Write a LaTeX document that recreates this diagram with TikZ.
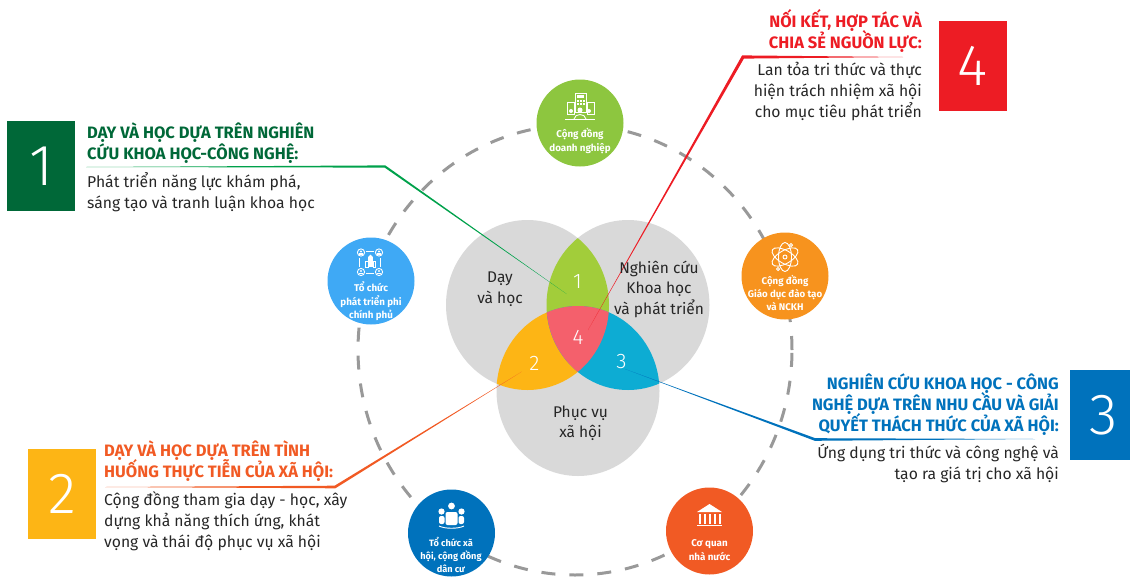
\documentclass[tikz,border=0pt]{standalone}
\usepackage{fontspec}
\setmainfont{Fira Sans}
\newfontfamily\thinfont{Fira Sans Light}
\usepackage{xcolor}
\usetikzlibrary{calc}
\normallineskiplimit=-20pt % keep the lines evenly spaced under tall accents
\lineskiplimit=-20pt

\definecolor{cgreen}{HTML}{006838}
\definecolor{cgreenl}{HTML}{00A14B}
\definecolor{cyellow}{HTML}{FDB515}
\definecolor{corange}{HTML}{F15A24}
\definecolor{cblue}{HTML}{0072BC}
\definecolor{cred}{HTML}{ED1C24}
\definecolor{cgray}{HTML}{D9D9D9}
\definecolor{clens}{HTML}{A2CD3A}
\definecolor{csky}{HTML}{0DACD3}
\definecolor{cpink}{HTML}{F4606C}
\definecolor{ctop}{HTML}{8DC63F}
\definecolor{cleft}{HTML}{3FA9F5}
\definecolor{cright}{HTML}{F7931E}

\tikzset{
    numbox/.style={minimum width=68pt,minimum height=90pt,inner sep=0pt,text=white,font=\fontsize{58}{58}\selectfont\thinfont},
    head/.style={inner sep=0pt,font=\fontsize{16.5}{21}\selectfont\bfseries},
    body/.style={inner sep=0pt,text=black!85,font=\fontsize{15.7}{21}\selectfont},
    venn/.style={inner sep=0pt,align=center,text=black!85,font=\fontsize{15.5}{20.5}\selectfont},
    vnum/.style={inner sep=0pt,text=white,font=\fontsize{21}{21}\selectfont\thinfont},
    comm/.style={circle,minimum size=87pt,inner sep=0pt},
    commtext/.style={inner sep=0pt,align=center,text=white,font=\fontsize{9.8}{13.5}\selectfont\bfseries},
    icon/.style={white,line width=0.9pt},
}

% colour, start, corner, end, shift of the corner
\newcommand{\taper}[6]{\fill[#1] (#2) -- ($(#3)+(#5,-#6)$) -- (#4) -- ($(#3)+(-#5,#6)$) -- cycle;}

\begin{document}
\begin{tikzpicture}[x=1pt,y=-1pt]
        \clip (0,0) rectangle (1130,576); % page size
        \def\vennL{(527.5,305) ellipse [x radius=81.5pt,y radius=85pt]}
        \def\vennR{(628,305) ellipse [x radius=81.5pt,y radius=85pt]}
        \def\vennB{(578,391) ellipse [x radius=81.5pt,y radius=85pt]}

        % dashed ring, then the five communities
        \draw [black!40,line width=3pt,dash pattern=on 14pt off 14pt] (575,350) ellipse [x radius=217pt,y radius=225pt];
        \foreach \n/\x/\y/\c in {top/580/123/ctop,left/371/281/cleft,right/785/276/cright,botl/451.5/533/cblue,botr/709.5/531/corange}
        {
            \node [comm,fill=\c] (c\n) at (\x,\y) {};
        }
        \node [commtext] (ttop) at (580,141) {Cộng đồng\\doanh nghiệp};
        \node [commtext] (tleft) at (371,301.5) {Tổ chức\\phát triển phi\\chính phủ};
        \node [commtext,font=\fontsize{9.7}{13}\selectfont\bfseries] (tright) at (785,293) {Cộng đồng\\Giáo dục đào tạo\\và NCKH};
        \node [commtext,font=\fontsize{9.2}{13}\selectfont\bfseries] (tbotl) at (451,555) {Tổ chức xã\\hội, cộng đồng\\dân cư};
        \node [commtext] (tbotr) at (709.5,550) {Cơ quan\\nhà nước};

        % icon of the top circle
        \draw [icon] (575,93) rectangle (586,112);
        \draw [icon] (567,102) rectangle (574,114);
        \draw [icon] (587,102) rectangle (594,114);
        \fill [white] (577,95) rectangle (584,98);
        \foreach \a in {577,580,583}
            \foreach \b in {100,103}
                \fill [white] (\a,\b) rectangle ++(1.6,1.6);
        \fill [white] (580,110) circle (2.5pt);
        \fill [white] (571,111) circle (2pt);
        \fill [white] (589,111) circle (2pt);
        \draw [icon] (565,119) -- (595,119);
        \draw [icon] (574,119) .. controls (575,113) and (585,113) .. (586,119);

        % icon of the left circle
        \foreach \a/\b in {361/252.5,379/252.5,361/272,379/272}
        {
            \draw [icon] (\a,\b) circle (3.6pt);
            \fill [white] (\a,\b-1) circle (1.1pt);
            \fill [white] (\a-1.8,\b+2) rectangle (\a+1.8,\b+0.6);
        }
        \fill [white] (368,257) rectangle (373,267);
        \draw [icon] (365.5,261) rectangle (368,267);
        \draw [icon] (373,261) rectangle (375.5,267);
        \fill [white] (368,257) -- (370.5,254.5) -- (373,257) -- cycle;
        \draw [icon] (366,251) -- (374,251);
        \draw [icon] (366,273) -- (374,273);
        \draw [icon] (359.5,258) -- (359.5,267);
        \draw [icon] (380.5,258) -- (380.5,267);

        % icon of the right circle
        \foreach \r in {30,90,150}
            \draw [icon] (785,257) ellipse [x radius=14.5pt,y radius=6.5pt,rotate=\r];
        \draw [icon] (785,257) circle (2pt);
        \foreach \a/\b in {791/245,778/269}
            \draw [icon,fill=cright] (\a,\b) circle (1.6pt);

        % icon of the lower left circle
        \fill [white] (451.5,506) circle (3.4pt);
        \fill [white] (441.5,511.5) circle (3.1pt);
        \fill [white] (461.5,511.5) circle (3.1pt);
        \fill [white,rounded corners=2pt] (445.5,512) rectangle (457.5,525);
        \fill [white,rounded corners=2pt] (439,516) rectangle (444.5,524);
        \fill [white,rounded corners=2pt] (458.5,516) rectangle (464,524);
        \draw [icon] (439,526) .. controls (445,529) and (458,529) .. (464,526);

        % icon of the lower right circle
        \fill [white] (697,512) -- (709.5,504) -- (722,512) -- cycle;
        \foreach \a in {700,705,710,715,720}
            \fill [white] (\a-1,514) rectangle (\a+0.6,523.5);
        \fill [white] (697,524.5) rectangle (722,526);

        % the three fields and their overlaps
        \fill [cgray] \vennL;
        \fill [cgray] \vennR;
        \fill [cgray] \vennB;
        \begin{scope}
            \clip \vennL;
            \fill [clens] \vennR;
            \fill [cyellow] \vennB;
        \end{scope}
        \begin{scope}
            \clip \vennR;
            \fill [csky] \vennB;
        \end{scope}
        \begin{scope}
            \clip \vennL;
            \clip \vennR;
            \fill [cpink] \vennB;
        \end{scope}

        % connectors
        \coordinate (s1) at (86,167);
        \coordinate (k1) at (385,166.5);
        \coordinate (e1) at (566.7,294);
        \coordinate (s2) at (105,487);
        \coordinate (k2) at (335,487);
        \coordinate (e2) at (521.7,371.7);
        \coordinate (s3) at (1035,439);
        \coordinate (k3) at (815,439.5);
        \coordinate (e3) at (625,369);
        \coordinate (s4) at (903,57);
        \coordinate (k4) at (743,57);
        \coordinate (e4) at (588,330);
        \taper{cgreenl}{s1}{k1}{e1}{0.3}{1.1}
        \taper{corange}{s2}{k2}{e2}{-0.4}{1.3}
        \taper{cblue}{s3}{k3}{e3}{0.25}{1.3}
        \taper{cred}{s4}{k4}{e4}{-0.9}{1.6}

        % labels inside the fields
        \node [venn] (vL) at (500,289) {Dạy\\và học};
        \node [venn] (vR) at (659,289) {Nghiên cứu\\Khoa học\\và phát triển};
        \node [venn] (vB) at (580.5,423) {Phục vụ\\xã hội};
        \node [vnum] (n1) at (577.5,282) {1};
        \node [vnum] (n2) at (534.5,363) {2};
        \node [vnum] (n3) at (621.5,362) {3};
        \node [vnum] (n4) at (578,337) {4};

        % numbered boxes
        \foreach \n/\x/\y/\c in {1/41/166/cgreen,2/62/494/cyellow,3/1104/415/cblue,4/973/66/cred}
        {
            \node [numbox,fill=\c] (box\n) at (\x,\y) {\n};
        }

        % texts next to the boxes
        \node [head,text=cgreen,anchor=north west,align=left] (h1) at (87,122.5) {DẠY VÀ HỌC DỰA TRÊN NGHIÊN\\CỨU KHOA HỌC-CÔNG NGHỆ:};
        \node [body,anchor=north west,align=left] (b1) at (87,172) {Phát triển năng lực khám phá,\\sáng tạo và tranh luận khoa học};
        \node [head,text=corange,anchor=north west,align=left] (h2) at (104,440.5) {DẠY VÀ HỌC DỰA TRÊN TÌNH\\HUỐNG THỰC TIỄN CỦA XÃ HỘI:};
        \node [body,anchor=north west,align=left] (b2) at (104,491) {Cộng đồng tham gia dạy - học, xây\\dựng khả năng thích ứng, khát\\vọng và thái độ phục vụ xã hội};
        \node [head,text=cblue,anchor=north east,align=right] (h3) at (1059,374) {NGHIÊN CỨU KHOA HỌC - CÔNG\\NGHỆ DỰA TRÊN NHU CẦU VÀ GIẢI\\QUYẾT THÁCH THỨC CỦA XÃ HỘI:};
        \node [body,anchor=north east,align=right] (b3) at (1059,444) {Ứng dụng tri thức và công nghệ và\\tạo ra giá trị cho xã hội};
        \node [head,text=cred,anchor=north east,align=right] (h4) at (922,9) {NỐI KẾT, HỢP TÁC VÀ\\CHIA SẺ NGUỒN LỰC:};
        \node [body,anchor=north east,align=right] (b4) at (922,62) {Lan tỏa tri thức và thực\\hiện trách nhiệm xã hội\\cho mục tiêu phát triển};
\end{tikzpicture}
\end{document}
